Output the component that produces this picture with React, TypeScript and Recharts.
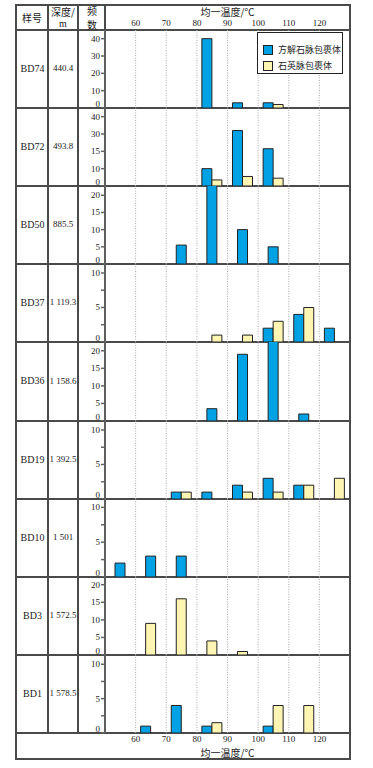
import { BarChart, Bar, XAxis, YAxis, ReferenceLine, Legend } from "recharts";

// Homogenisation temperature histograms, one small chart per sample row,
// laid out as a table (sample | depth | count axis | chart).

const BINS = ["50-60", "60-70", "70-80", "80-90", "90-100", "100-110", "110-120", "120-130"];
const BIN_MID = [55, 65, 75, 85, 95, 105, 115, 125];
const TEMP_TICKS = [60, 70, 80, 90, 100, 110, 120];
const SAMPLES = ["BD74", "BD72", "BD50", "BD37", "BD36", "BD19", "BD10", "BD3", "BD1"];
const DEPTHS = ["440.4", "493.8", "885.5", "1 119.3", "1 158.6", "1 392.5", "1 501", "1 572.5", "1 578.5"];

const _ = null;
// 方解石脉包裹体 counts per bin (null row = series absent for that sample)
const CALCITE: ((number | null)[] | null)[] = [
  [_, _, _, 40, 3, 3, _, _],
  [_, _, _, 10, 32, 21.5, _, _],
  [_, _, 5.5, 23, 10, 5, _, _],
  [_, _, _, _, _, 2, 4, 2],
  [_, _, _, 3.5, 19, 23, 2, _],
  [_, _, 1, 1, 2, 3, 2, _],
  [2, 3, 3, _, _, _, _, _],
  null,
  [_, 1, 4, 1, _, 1, _, _],
];
// 石英脉包裹体 counts per bin
const QUARTZ: ((number | null)[] | null)[] = [
  [_, _, _, _, _, 2, _, _],
  [_, _, _, 3.5, 5.5, 4.5, _, _],
  null,
  [_, _, _, 1, 1, 3, 5, _],
  null,
  [_, _, 1, _, 1, 1, 2, 3],
  null,
  [_, 9, 16, 4, 1, _, _, _],
  [_, _, _, 1.5, _, 4, 4, _],
];

const Y_MAX = [45, 45, 22.7, 11.3, 22.5, 11.3, 11.2, 22.2, 11.35];
const Y_TICKS = [
  [0, 10, 20, 30, 40],
  [0, 10, 20, 30, 40],
  [0, 5, 10, 15, 20],
  [0, 2.5, 5, 7.5, 10],
  [0, 5, 10, 15, 20],
  [0, 2.5, 5, 7.5, 10],
  [0, 2.5, 5, 7.5, 10],
  [0, 5, 10, 15, 20],
  [0, 2.5, 5, 7.5, 10],
];
const Y_LABELS = [
  ["0", "10", "20", "30", "40"],
  ["0", "10", "15", "30", "40"],
  ["0", "5", "10", "15", "20"],
  ["0", "", "5", "", "10"],
  ["0", "5", "10", "15", "20"],
  ["0", "", "5", "", "10"],
  ["0", "", "5", "", "10"],
  ["0", "5", "10", "15", "20"],
  ["0", "", "5", "", "10"],
];

const BLUE = "#00a2e6";
const YELLOW = "#fff5b3";
const LINE = "#4a4a4a";
const SERIF = "'Liberation Serif', 'DejaVu Serif', serif";
const CJK = "'Noto Sans CJK SC', sans-serif";

const rowTop = (i: number) => Math.round(30 + i * 78.1);

function HLine({ y }: { y: number }) {
  return <div style={{ position: "absolute", left: 16, top: y - 1, width: 334, height: 2, background: LINE }} />;
}
function VLine({ x, y1, y2 }: { x: number; y1: number; y2: number }) {
  return <div style={{ position: "absolute", left: x - 1, top: y1, width: 2, height: y2 - y1, background: LINE }} />;
}
function Cell({ x, y, text, size, font, w = 40 }: any) {
  return (
    <div
      style={{
        position: "absolute",
        left: x - w / 2,
        top: y - size / 2 - 0.5,
        width: w,
        height: size + 1,
        lineHeight: `${size + 1}px`,
        textAlign: "center",
        fontSize: size,
        fontFamily: font,
        color: "#222",
        whiteSpace: "nowrap",
      }}
    >
      {text}
    </div>
  );
}

function LegendBox({ payload }: any) {
  return (
    <div
      style={{
        width: 86,
        height: 42,
        boxSizing: "border-box",
        border: "1.5px solid #222",
        background: "#fff",
        paddingTop: 9,
        paddingLeft: 5,
      }}
    >
      {(payload || []).map((p: any) => (
        <div key={p.value} style={{ display: "flex", alignItems: "center", height: 16 }}>
          <span
            style={{
              display: "inline-block",
              width: 8,
              height: 8,
              background: p.color,
              border: "1px solid #222",
              marginRight: 5,
            }}
          />
          <span style={{ fontSize: 9, fontFamily: CJK, color: "#222", lineHeight: "10px" }}>{p.value}</span>
        </div>
      ))}
    </div>
  );
}

function RowChart({ i }: { i: number }) {
  const first = i === 0;
  const last = i === SAMPLES.length - 1;
  const top = first ? 5 : rowTop(i);
  const bottom = last ? 759 : rowTop(i + 1);
  const cal = CALCITE[i];
  const qtz = QUARTZ[i];
  const data = BINS.map((bin, k) => ({
    bin,
    mid: BIN_MID[k],
    calcite: cal ? cal[k] : null,
    quartz: qtz ? qtz[k] : null,
  }));
  const ticks = Y_TICKS[i];
  const labels = Y_LABELS[i];
  const renderTick = (p: any) => {
    const idx = ticks.indexOf(p.payload.value);
    const zero = p.payload.value === 0;
    return (
      <text x={p.x} y={p.y + (zero ? -1.5 : 3)} textAnchor="end" fontSize={9} fontFamily={SERIF} fill="#222">
        {labels[idx] ?? ""}
      </text>
    );
  };
  return (
    <div style={{ position: "absolute", left: 79, top }}>
      <BarChart
        width={271}
        height={bottom - top}
        data={data}
        margin={{ top: 0, right: 0, bottom: 0, left: 0 }}
        barGap={0}
        barSize={10}
        style={{ fontFamily: SERIF }}
      >
        <XAxis dataKey="bin" hide height={0} />
        <XAxis
          xAxisId="t"
          dataKey="mid"
          type="number"
          domain={[50, 130]}
          allowDataOverflow
          ticks={TEMP_TICKS}
          interval={0}
          hide={!first && !last}
          orientation={first ? "top" : "bottom"}
          height={first ? 25 : 26}
          axisLine={false}
          tickLine={false}
          tickSize={0}
          tickMargin={first ? 4 : 3}
          tick={{ fontSize: 9, fill: "#222", fontFamily: SERIF }}
          label={{
            value: "均一温度/℃",
            position: first ? "insideTop" : "insideBottom",
            offset: first ? 4 : 2,
            fontSize: 10,
            fill: "#222",
            fontFamily: CJK,
          }}
        />
        <YAxis
          width={26}
          domain={[0, Y_MAX[i]]}
          ticks={ticks}
          interval={0}
          allowDataOverflow
          tickSize={4}
          tickMargin={1}
          stroke="#666"
          strokeWidth={1.5}
          tick={renderTick}
        />
        {TEMP_TICKS.map((t) => (
          <ReferenceLine key={t} x={t} xAxisId="t" stroke="#aaa" strokeDasharray="1 1.5" />
        ))}
        {cal && (
          <Bar dataKey="calcite" name="方解石脉包裹体" fill={BLUE} stroke="#222" strokeWidth={1} isAnimationActive={false} />
        )}
        {qtz && (
          <Bar dataKey="quartz" name="石英脉包裹体" fill={YELLOW} stroke="#222" strokeWidth={1} isAnimationActive={false} />
        )}
        {first && (
          <Legend
            layout="vertical"
            align="center"
            verticalAlign="middle"
            wrapperStyle={{ left: 178, top: 27, width: 86, height: 42 }}
            content={(props: any) => <LegendBox payload={props.payload} />}
          />
        )}
      </BarChart>
    </div>
  );
}

export default function App() {
  const n = SAMPLES.length;
  return (
    <div style={{ position: "absolute", left: 0, top: 0, width: 373, height: 768, background: "#fff" }}>
      {/* table frame */}
      <div
        style={{
          position: "absolute",
          left: 15,
          top: 4,
          width: 336,
          height: 756,
          boxSizing: "border-box",
          border: `2px solid ${LINE}`,
        }}
      />
      {Array.from({ length: n + 1 }, (_, k) => (
        <HLine key={k} y={rowTop(k)} />
      ))}
      <VLine x={48} y1={5} y2={rowTop(n)} />
      <VLine x={78} y1={5} y2={rowTop(n)} />
      <VLine x={105} y1={5} y2={rowTop(n)} />

      {/* header */}
      <Cell x={32} y={17} text="样号" size={10} font={CJK} />
      <Cell x={63} y={11.5} text="深度/" size={10} font={CJK} />
      <Cell x={63} y={23.5} text="m" size={10} font={SERIF} />
      <Cell x={92} y={10.5} text="频" size={10} font={CJK} />
      <Cell x={92} y={24.5} text="数" size={10} font={CJK} />

      {SAMPLES.map((s, i) => {
        const cy = (rowTop(i) + rowTop(i + 1)) / 2 - 1;
        return (
          <div key={s}>
            <Cell x={32.5} y={cy} text={s} size={10} font={SERIF} />
            <Cell x={63} y={cy} text={DEPTHS[i]} size={9} font={SERIF} />
          </div>
        );
      })}

      {SAMPLES.map((s, i) => (
        <RowChart key={s} i={i} />
      ))}
    </div>
  );
}
